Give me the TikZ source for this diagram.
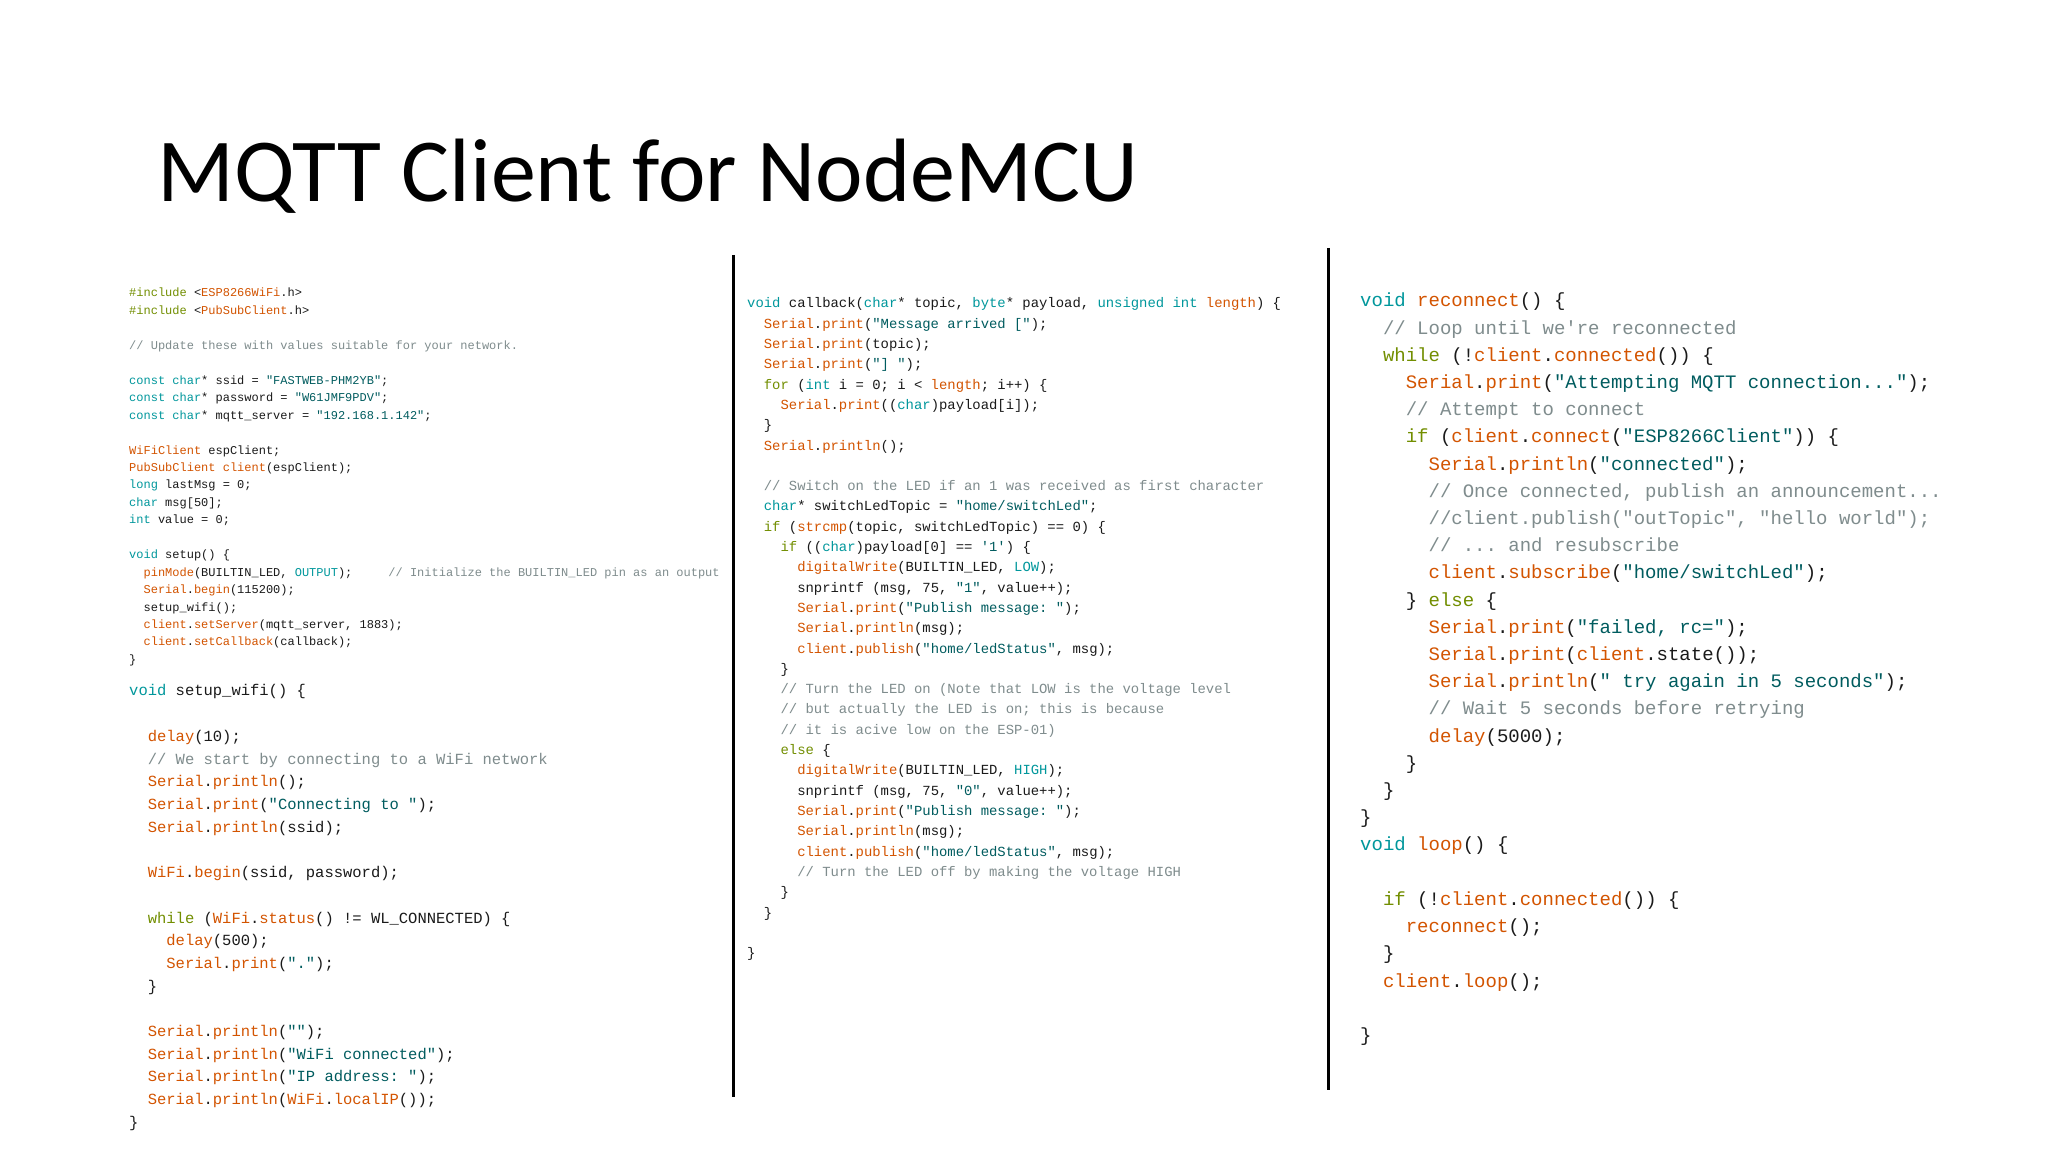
\documentclass[tikz,border=0pt]{standalone}
\usepackage{fontspec}
\setmainfont{Carlito}
\setmonofont{Liberation Mono}
\definecolor{kwc}{HTML}{00979C}
\definecolor{ctc}{HTML}{728E00}
\definecolor{fnc}{HTML}{D35400}
\definecolor{stc}{HTML}{005C5F}
\definecolor{cmc}{HTML}{7F8C8D}
\definecolor{txc}{HTML}{1A1A1A}
\newcommand\cK[1]{\textcolor{kwc}{#1}}
\newcommand\cW[1]{\textcolor{ctc}{#1}}
\newcommand\cF[1]{\textcolor{fnc}{#1}}
\newcommand\cS[1]{\textcolor{stc}{#1}}
\newcommand\cC[1]{\textcolor{cmc}{#1}}
\newcommand\ind[1]{\hspace*{#1\dimexpr0.6em\relax}}
\newcommand\setcol[5]{\def\colx{#1}\def\coly{#2}\def\colls{#3}\def\colcw{#4}\def\colfs{#5}}
\newcommand\codeline[4]{\node[codetxt, font={\ttfamily\fontsize{\colfs}{\colfs}\selectfont}] (#1) at ({\colx+#3*\colcw},{1152-\coly-#2*\colls}) {#4};}
\tikzset{codetxt/.style={anchor=base west, inner sep=0pt, text=txc},
  sepline/.style={line width=3pt, black}}
\begin{document}
\begin{tikzpicture}[x=1pt,y=1pt]
\useasboundingbox[fill=white] (0,0) rectangle (2048,1152);
\node[anchor=base west, inner sep=0pt, font=\fontsize{90}{90}\selectfont] (title) at (157,950) {MQTT Client for NodeMCU};
\coordinate (s1t) at (733,897); \coordinate (s1b) at (733,55);
\coordinate (s2t) at (1328,904); \coordinate (s2b) at (1328,62);
\draw[sepline] (s1t) -- (s1b);
\draw[sepline] (s2t) -- (s2b);
% left top
\setcol{129}{297}{17.45}{7.2}{12}
\codeline{a0}{0}{0}{\cW{\#include} <\cF{ESP8266WiFi}.h>}
\codeline{a1}{1}{0}{\cW{\#include} <\cF{PubSubClient}.h>}
\codeline{a3}{3}{0}{\cC{// Update these with values suitable for your network.}}
\codeline{a5}{5}{0}{\cK{const char}* ssid = \cS{"FASTWEB-PHM2YB"};}
\codeline{a6}{6}{0}{\cK{const char}* password = \cS{"W61JMF9PDV"};}
\codeline{a7}{7}{0}{\cK{const char}* mqtt\_server = \cS{"192.168.1.142"};}
\codeline{a9}{9}{0}{\cF{WiFiClient} espClient;}
\codeline{a10}{10}{0}{\cF{PubSubClient} \cF{client}(espClient);}
\codeline{a11}{11}{0}{\cK{long} lastMsg = 0;}
\codeline{a12}{12}{0}{\cK{char} msg[50];}
\codeline{a13}{13}{0}{\cK{int} value = 0;}
\codeline{a15}{15}{0}{\cK{void} setup() \{}
\codeline{a16}{16}{2}{\cF{pinMode}(BUILTIN\_LED, \cK{OUTPUT});\ind{5}\cC{// Initialize the BUILTIN\_LED pin as an output}}
\codeline{a17}{17}{2}{\cF{Serial}.\cF{begin}(115200);}
\codeline{a18}{18}{2}{setup\_wifi();}
\codeline{a19}{19}{2}{\cF{client}.\cF{setServer}(mqtt\_server, 1883);}
\codeline{a20}{20}{2}{\cF{client}.\cF{setCallback}(callback);}
\codeline{a21}{21}{0}{\}}
% left bottom
\setcol{129}{696}{22.7}{9.3}{15.5}
\codeline{b0}{0}{0}{\cK{void} setup\_wifi() \{}
\codeline{b2}{2}{2}{\cF{delay}(10);}
\codeline{b3}{3}{2}{\cC{// We start by connecting to a WiFi network}}
\codeline{b4}{4}{2}{\cF{Serial}.\cF{println}();}
\codeline{b5}{5}{2}{\cF{Serial}.\cF{print}(\cS{"Connecting to "});}
\codeline{b6}{6}{2}{\cF{Serial}.\cF{println}(ssid);}
\codeline{b8}{8}{2}{\cF{WiFi}.\cF{begin}(ssid, password);}
\codeline{b10}{10}{2}{\cW{while} (\cF{WiFi}.\cF{status}() != WL\_CONNECTED) \{}
\codeline{b11}{11}{4}{\cF{delay}(500);}
\codeline{b12}{12}{4}{\cF{Serial}.\cF{print}(\cS{"."});}
\codeline{b13}{13}{2}{\}}
\codeline{b15}{15}{2}{\cF{Serial}.\cF{println}(\cS{""});}
\codeline{b16}{16}{2}{\cF{Serial}.\cF{println}(\cS{"WiFi connected"});}
\codeline{b17}{17}{2}{\cF{Serial}.\cF{println}(\cS{"IP address: "});}
\codeline{b18}{18}{2}{\cF{Serial}.\cF{println}(\cF{WiFi}.\cF{localIP}());}
\codeline{b19}{19}{0}{\}}
% middle
\setcol{747}{308}{20.3}{8.35}{13.9}
\codeline{m0}{0}{0}{\cK{void} callback(\cK{char}* topic, \cK{byte}* payload, \cK{unsigned int} \cF{length}) \{}
\codeline{m1}{1}{2}{\cF{Serial}.\cF{print}(\cS{"Message arrived ["});}
\codeline{m2}{2}{2}{\cF{Serial}.\cF{print}(topic);}
\codeline{m3}{3}{2}{\cF{Serial}.\cF{print}(\cS{"] "});}
\codeline{m4}{4}{2}{\cW{for} (\cK{int} i = 0; i < \cF{length}; i++) \{}
\codeline{m5}{5}{4}{\cF{Serial}.\cF{print}((\cK{char})payload[i]);}
\codeline{m6}{6}{2}{\}}
\codeline{m7}{7}{2}{\cF{Serial}.\cF{println}();}
\codeline{m9}{9}{2}{\cC{// Switch on the LED if an 1 was received as first character}}
\codeline{m10}{10}{2}{\cK{char}* switchLedTopic = \cS{"home/switchLed"};}
\codeline{m11}{11}{2}{\cW{if} (\cF{strcmp}(topic, switchLedTopic) == 0) \{}
\codeline{m12}{12}{4}{\cW{if} ((\cK{char})payload[0] == \cS{'1'}) \{}
\codeline{m13}{13}{6}{\cF{digitalWrite}(BUILTIN\_LED, \cK{LOW});}
\codeline{m14}{14}{6}{snprintf (msg, 75, \cS{"1"}, value++);}
\codeline{m15}{15}{6}{\cF{Serial}.\cF{print}(\cS{"Publish message: "});}
\codeline{m16}{16}{6}{\cF{Serial}.\cF{println}(msg);}
\codeline{m17}{17}{6}{\cF{client}.\cF{publish}(\cS{"home/ledStatus"}, msg);}
\codeline{m18}{18}{4}{\}}
\codeline{m19}{19}{4}{\cC{// Turn the LED on (Note that LOW is the voltage level}}
\codeline{m20}{20}{4}{\cC{// but actually the LED is on; this is because}}
\codeline{m21}{21}{4}{\cC{// it is acive low on the ESP-01)}}
\codeline{m22}{22}{4}{\cW{else} \{}
\codeline{m23}{23}{6}{\cF{digitalWrite}(BUILTIN\_LED, \cK{HIGH});}
\codeline{m24}{24}{6}{snprintf (msg, 75, \cS{"0"}, value++);}
\codeline{m25}{25}{6}{\cF{Serial}.\cF{print}(\cS{"Publish message: "});}
\codeline{m26}{26}{6}{\cF{Serial}.\cF{println}(msg);}
\codeline{m27}{27}{6}{\cF{client}.\cF{publish}(\cS{"home/ledStatus"}, msg);}
\codeline{m28}{28}{6}{\cC{// Turn the LED off by making the voltage HIGH}}
\codeline{m29}{29}{4}{\}}
\codeline{m30}{30}{2}{\}}
\codeline{m32}{32}{0}{\}}
% right
\setcol{1360}{307}{27.2}{11.4}{19}
\codeline{r0}{0}{0}{\cK{void} \cF{reconnect}() \{}
\codeline{r1}{1}{2}{\cC{// Loop until we're reconnected}}
\codeline{r2}{2}{2}{\cW{while} (!\cF{client}.\cF{connected}()) \{}
\codeline{r3}{3}{4}{\cF{Serial}.\cF{print}(\cS{"Attempting MQTT connection..."});}
\codeline{r4}{4}{4}{\cC{// Attempt to connect}}
\codeline{r5}{5}{4}{\cW{if} (\cF{client}.\cF{connect}(\cS{"ESP8266Client"})) \{}
\codeline{r6}{6}{6}{\cF{Serial}.\cF{println}(\cS{"connected"});}
\codeline{r7}{7}{6}{\cC{// Once connected, publish an announcement...}}
\codeline{r8}{8}{6}{\cC{//client.publish("outTopic", "hello world");}}
\codeline{r9}{9}{6}{\cC{// ... and resubscribe}}
\codeline{r10}{10}{6}{\cF{client}.\cF{subscribe}(\cS{"home/switchLed"});}
\codeline{r11}{11}{4}{\} \cW{else} \{}
\codeline{r12}{12}{6}{\cF{Serial}.\cF{print}(\cS{"failed, rc="});}
\codeline{r13}{13}{6}{\cF{Serial}.\cF{print}(\cF{client}.state());}
\codeline{r14}{14}{6}{\cF{Serial}.\cF{println}(\cS{" try again in 5 seconds"});}
\codeline{r15}{15}{6}{\cC{// Wait 5 seconds before retrying}}
\codeline{r16}{16}{6}{\cF{delay}(5000);}
\codeline{r17}{17}{4}{\}}
\codeline{r18}{18}{2}{\}}
\codeline{r19}{19}{0}{\}}
\codeline{r20}{20}{0}{\cK{void} \cF{loop}() \{}
\codeline{r22}{22}{2}{\cW{if} (!\cF{client}.\cF{connected}()) \{}
\codeline{r23}{23}{4}{\cF{reconnect}();}
\codeline{r24}{24}{2}{\}}
\codeline{r25}{25}{2}{\cF{client}.\cF{loop}();}
\codeline{r27}{27}{0}{\}}
\end{tikzpicture}
\end{document}
